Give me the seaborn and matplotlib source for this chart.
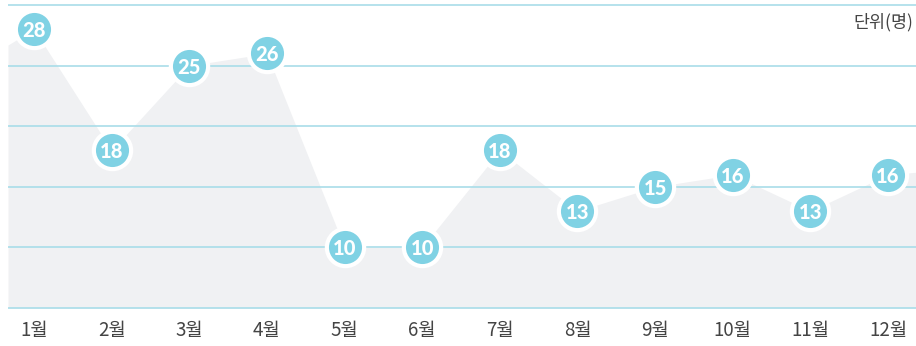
import numpy as np
import pandas as pd
import matplotlib
matplotlib.use("Agg")
import matplotlib.pyplot as plt
import seaborn as sns

months = ["1월", "2월", "3월", "4월", "5월", "6월", "7월", "8월", "9월", "10월", "11월", "12월"]
counts = [28, 18, 25, 26, 10, 10, 18, 13, 15, 16, 13, 16]
grid_levels = [5, 10, 15, 20, 25, 30]
unit_label = "단위(명)"

sns.set_theme(style="white")
plt.rcParams["font.family"] = ["Noto Sans CJK KR", "DejaVu Sans"]

df = pd.DataFrame({"month": months, "count": counts, "pos": np.arange(len(months))})

fig = plt.figure(figsize=(9.16, 3.46), dpi=100)
ax = fig.add_axes([8 / 916, 1 - 309 / 346, 908 / 916, 305 / 346])

x_lo, x_hi = -0.335, 11.36
ax.set_xlim(x_lo, x_hi)
ax.set_ylim(grid_levels[0] - 0.08, grid_levels[-1] + 0.08)

# Shaded area under the monthly counts, carried out to the plot edges
fx = np.concatenate([[x_lo], df["pos"].to_numpy(), [x_hi]])
fy = np.concatenate([[counts[0] - 1.3], df["count"].to_numpy(), [counts[-1] + 0.2]])
ax.fill_between(fx, grid_levels[0], fy, color="#f0f1f3", linewidth=0, zorder=1)

# Horizontal guide lines
for g in grid_levels:
    ax.axhline(g, color="#a9dde9", linewidth=1.2, zorder=2)

# Value bubbles
sns.scatterplot(data=df, x="pos", y="count", ax=ax, s=720, color="#80d2e4",
                edgecolor="white", linewidth=3.0, zorder=4, legend=False)
for _, r in df.iterrows():
    ax.text(r["pos"], r["count"], str(r["count"]), ha="center", va="center_baseline",
            color="white", fontsize=14.5, fontweight="black", family=["Lato", "DejaVu Sans"],
            zorder=5)

ax.set_xticks(df["pos"])
ax.set_xticklabels(months, color="#444444", fontsize=13.5)
ax.tick_params(axis="x", length=0, pad=8)
ax.set_yticks([])
ax.set_xlabel("")
ax.set_ylabel("")
for s in ax.spines.values():
    s.set_visible(False)

ax.text(0.997, 0.94, unit_label, transform=ax.transAxes, ha="right", va="center",
        color="#444444", fontsize=12.5)

fig.savefig("out.png", dpi=100)
